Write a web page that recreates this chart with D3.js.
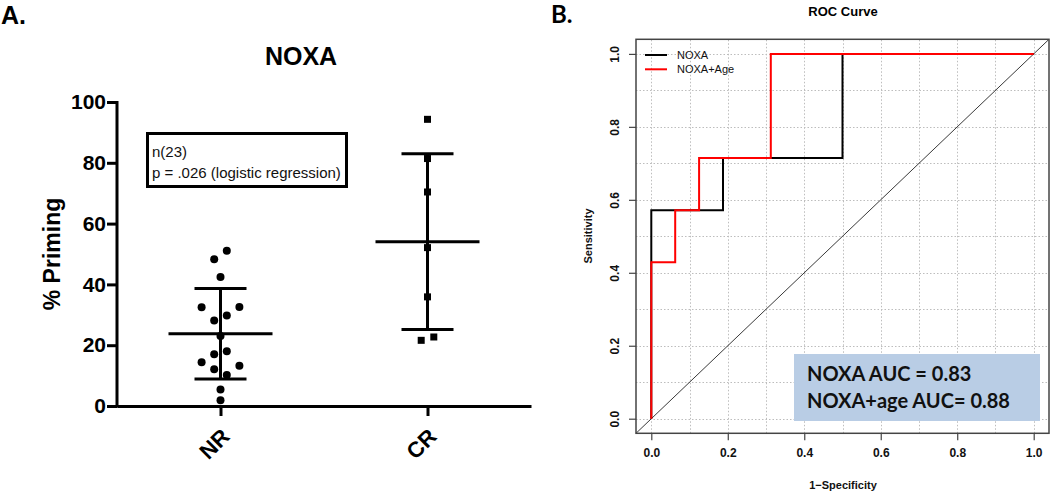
<!DOCTYPE html>
<html><head><meta charset="utf-8">
<script src="https://cdn.jsdelivr.net/npm/d3@7"></script>
<style>body{margin:0;background:#fff} svg{display:block}</style>
</head><body>
<svg id="c" width="1050" height="491"></svg>
<script>
// ---------- data ----------
const groups = ["NR", "CR"];
const nrValues = [51.1, 48.3, 42.4, 32.6, 32.5, 29.8, 28.1, 23.0, 18.0, 17.0, 13.2, 14.4, 10.2, 12.1, 5.4, 1.9];
const crValues = [94.3, 81.4, 70.4, 52.1, 35.9, 22.7, 21.6];
const yTicksA = [0, 20, 40, 60, 80, 100];
const panelATitle = "NOXA";
const yLabelA = "% Priming";
const statLines = ["n(23)", "p = .026 (logistic regression)"];

const rocTicks = [0, 0.2, 0.4, 0.6, 0.8, 1.0];
const gridSteps = [0, 0.1, 0.2, 0.3, 0.4, 0.5, 0.6, 0.7, 0.8, 0.9, 1.0];
const noxaFpr = [0, 0, 0.1875, 0.1875, 0.5, 0.5, 1];
const noxaTpr = [0, 0.5714, 0.5714, 0.7143, 0.7143, 1, 1];
const ageFpr = [0, 0, 0.0625, 0.0625, 0.125, 0.125, 0.3125, 0.3125, 1];
const ageTpr = [0, 0.4286, 0.4286, 0.5714, 0.5714, 0.7143, 0.7143, 1, 1];
const legendLabels = ["NOXA", "NOXA+Age"];
const aucLines = ["NOXA AUC = 0.83", "NOXA+age AUC= 0.88"];

const svg = d3.select("#c");
const FA = "'Liberation Sans', Arial, sans-serif";

// ---------- Panel A ----------
svg.append("text").attr("x", 1).attr("y", 24).attr("font-family", FA)
  .attr("font-weight", "bold").attr("font-size", 25).text("A.");

const yA = d3.scaleLinear().domain([0, 100]).range([406, 102]);
const xA = d3.scalePoint().domain(groups).range([117, 531]).padding(0.5);

svg.append("text").attr("x", 301).attr("y", 65).attr("text-anchor", "middle")
  .attr("font-family", FA).attr("font-weight", "bold").attr("font-size", 25).text(panelATitle);

const gy = svg.append("g").attr("transform", "translate(117,0)")
  .call(d3.axisLeft(yA).tickValues(yTicksA).tickSize(10).tickSizeOuter(0).tickPadding(1));
gy.select(".domain").attr("stroke-width", 3).attr("stroke", "#000")
  .attr("d", `M0,${yA(0) + 1.5}V${yA(100) - 1}`);
gy.selectAll(".tick line").attr("stroke-width", 3).attr("stroke", "#000");
gy.selectAll(".tick text").attr("font-family", FA).attr("font-weight", "bold")
  .attr("font-size", 21).attr("fill", "#000");

const gx = svg.append("g").attr("transform", `translate(0,${yA(0)})`)
  .call(d3.axisBottom(xA).tickSize(10).tickSizeOuter(0));
gx.select(".domain").attr("stroke-width", 3).attr("stroke", "#000");
gx.selectAll(".tick line").attr("stroke-width", 3).attr("stroke", "#000");
gx.selectAll(".tick text").attr("font-family", FA).attr("font-weight", "bold")
  .attr("font-size", 22).attr("fill", "#000").attr("text-anchor", "end")
  .attr("y", null).attr("dy", null)
  .attr("transform", "translate(10,32) rotate(-45)");

svg.append("text").attr("transform", "translate(60,254) rotate(-90)")
  .attr("text-anchor", "middle").attr("font-family", FA).attr("font-weight", "bold")
  .attr("font-size", 23).text(yLabelA);

// stats box
svg.append("rect").attr("x", 147.5).attr("y", 133.5).attr("width", 199).attr("height", 53)
  .attr("fill", "none").attr("stroke", "#000").attr("stroke-width", 3);
statLines.forEach((t, i) => {
  svg.append("text").attr("x", 152).attr("y", 157 + i * 20.5).attr("font-family", FA)
    .attr("font-size", 15).attr("fill", "#111").text(t);
});

// scatter layout: bins of 6 units, points spread symmetrically in each row
function swarm(vals, cx) {
  const binW = 6, binOff = 3.3, step = 12.6;
  const rows = d3.group(vals, v => Math.floor((v - binOff) / binW));
  const out = [];
  for (const [, row] of rows) {
    const n = row.length;
    const slots = d3.range(n).map(i => (i - (n - 1) / 2) * step);
    const order = [];
    for (let k = 0; k < Math.floor(n / 2); k++) { order.push(slots[n - 1 - k]); order.push(slots[k]); }
    if (n % 2) order.push(slots[(n - 1) / 2]);
    row.forEach((v, i) => out.push({ v, x: cx + order[i] }));
  }
  return out;
}

function meanSd(vals, cx) {
  const m = d3.mean(vals), sd = d3.deviation(vals);
  const g = svg.append("g").attr("stroke", "#000").attr("stroke-width", 3);
  g.append("line").attr("x1", cx).attr("x2", cx).attr("y1", yA(m + sd)).attr("y2", yA(m - sd));
  g.append("line").attr("x1", cx - 52).attr("x2", cx + 52).attr("y1", yA(m)).attr("y2", yA(m));
  g.append("line").attr("x1", cx - 26).attr("x2", cx + 26).attr("y1", yA(m + sd)).attr("y2", yA(m + sd));
  g.append("line").attr("x1", cx - 26).attr("x2", cx + 26).attr("y1", yA(m - sd)).attr("y2", yA(m - sd));
}

svg.append("g").selectAll("circle").data(swarm(nrValues, xA("NR"))).join("circle")
  .attr("cx", d => d.x).attr("cy", d => yA(d.v)).attr("r", 4).attr("fill", "#000");
svg.append("g").selectAll("rect").data(swarm(crValues, xA("CR"))).join("rect")
  .attr("x", d => d.x - 3.5).attr("y", d => yA(d.v) - 3.5).attr("width", 7).attr("height", 7).attr("fill", "#000");
meanSd(nrValues, xA("NR"));
meanSd(crValues, xA("CR"));

// ---------- Panel B ----------
const FB = "'Liberation Sans', Helvetica, Arial, sans-serif";
svg.append("text").attr("x", 551).attr("y", 23).attr("font-family", "Lato, 'Liberation Sans', sans-serif")
  .attr("font-weight", "bold").attr("font-size", 24).text("B.");

const xB = d3.scaleLinear().domain([-0.04, 1.04]).range([636, 1049]);
const yB = d3.scaleLinear().domain([-0.04, 1.04]).range([433.3, 39.3]);

svg.append("text").attr("x", 843).attr("y", 16).attr("text-anchor", "middle")
  .attr("font-family", FB).attr("font-weight", "bold").attr("font-size", 13).text("ROC Curve");

// grid
const grid = svg.append("g").attr("stroke", "#bdbdbd").attr("stroke-width", 1).attr("stroke-dasharray", "1.5,2");
grid.selectAll(".gv").data(gridSteps).join("line").attr("class", "gv")
  .attr("x1", d => Math.round(xB(d)) + 0.5).attr("x2", d => Math.round(xB(d)) + 0.5)
  .attr("y1", yB.range()[0]).attr("y2", yB.range()[1]);
grid.selectAll(".gh").data(gridSteps).join("line").attr("class", "gh")
  .attr("y1", d => Math.round(yB(d)) + 0.5).attr("y2", d => Math.round(yB(d)) + 0.5)
  .attr("x1", xB.range()[0]).attr("x2", xB.range()[1]);

// AUC box
svg.append("rect").attr("x", 794).attr("y", 354).attr("width", 246).attr("height", 67).attr("fill", "#b9cde5");
aucLines.forEach((t, i) => {
  svg.append("text").attr("x", 807).attr("y", 381 + i * 27).attr("font-family", "Lato, 'Open Sans', sans-serif")
    .attr("font-weight", "bold").attr("font-size", 20).attr("fill", "#111").text(t);
});

// clip + diagonal
svg.append("clipPath").attr("id", "clipB").append("rect")
  .attr("x", 636).attr("y", 39.3).attr("width", 413).attr("height", 394);
svg.append("line").attr("clip-path", "url(#clipB)")
  .attr("x1", xB(-0.04)).attr("y1", yB(-0.04)).attr("x2", xB(1.04)).attr("y2", yB(1.04))
  .attr("stroke", "#222").attr("stroke-width", 0.9);

const line = d3.line().x(d => xB(d[0])).y(d => yB(d[1]));
svg.append("path").attr("d", line(d3.zip(noxaFpr, noxaTpr))).attr("fill", "none")
  .attr("stroke", "#000").attr("stroke-width", 2);
svg.append("path").attr("d", line(d3.zip(ageFpr, ageTpr))).attr("fill", "none")
  .attr("stroke", "#ff0000").attr("stroke-width", 2);

// frame
svg.append("rect").attr("x", 636).attr("y", 39.3).attr("width", 413).attr("height", 394)
  .attr("fill", "none").attr("stroke", "#444").attr("stroke-width", 1.5);

// axes B
const gxb = svg.append("g").attr("transform", "translate(0,433.3)")
  .call(d3.axisBottom(xB).tickValues(rocTicks).tickFormat(d3.format(".1f")).tickSize(7).tickPadding(8));
gxb.select(".domain").remove();
gxb.selectAll(".tick line").attr("stroke", "#444").attr("stroke-width", 1.2);
gxb.selectAll(".tick text").attr("font-family", FB).attr("font-weight", "bold").attr("font-size", 12).attr("fill", "#111");

const gyb = svg.append("g").attr("transform", "translate(636,0)")
  .call(d3.axisLeft(yB).tickValues(rocTicks).tickFormat(d3.format(".1f")).tickSize(7));
gyb.select(".domain").remove();
gyb.selectAll(".tick line").attr("stroke", "#444").attr("stroke-width", 1.2);
gyb.selectAll(".tick text").attr("font-family", FB).attr("font-weight", "bold").attr("font-size", 12).attr("fill", "#111")
  .attr("x", null).attr("dy", null).attr("text-anchor", "middle").attr("dominant-baseline", "central")
  .attr("transform", "translate(-21,0) rotate(-90)");

svg.append("text").attr("x", 843).attr("y", 489).attr("text-anchor", "middle")
  .attr("font-family", FB).attr("font-weight", "bold").attr("font-size", 11).attr("fill", "#111").text("1\u2212Specificity");
svg.append("text").attr("transform", "translate(592,236) rotate(-90)").attr("text-anchor", "middle")
  .attr("font-family", FB).attr("font-weight", "bold").attr("font-size", 11).attr("fill", "#111").text("Sensitivity");

// legend
const legColors = ["#000", "#ff0000"];
legendLabels.forEach((t, i) => {
  const y = 55 + i * 14.3;
  svg.append("line").attr("x1", 645).attr("x2", 667).attr("y1", y).attr("y2", y)
    .attr("stroke", legColors[i]).attr("stroke-width", 2);
  svg.append("text").attr("x", 677).attr("y", y).attr("dominant-baseline", "central")
    .attr("font-family", FB).attr("font-size", 11).attr("fill", "#111").text(t);
});
</script>
</body></html>
